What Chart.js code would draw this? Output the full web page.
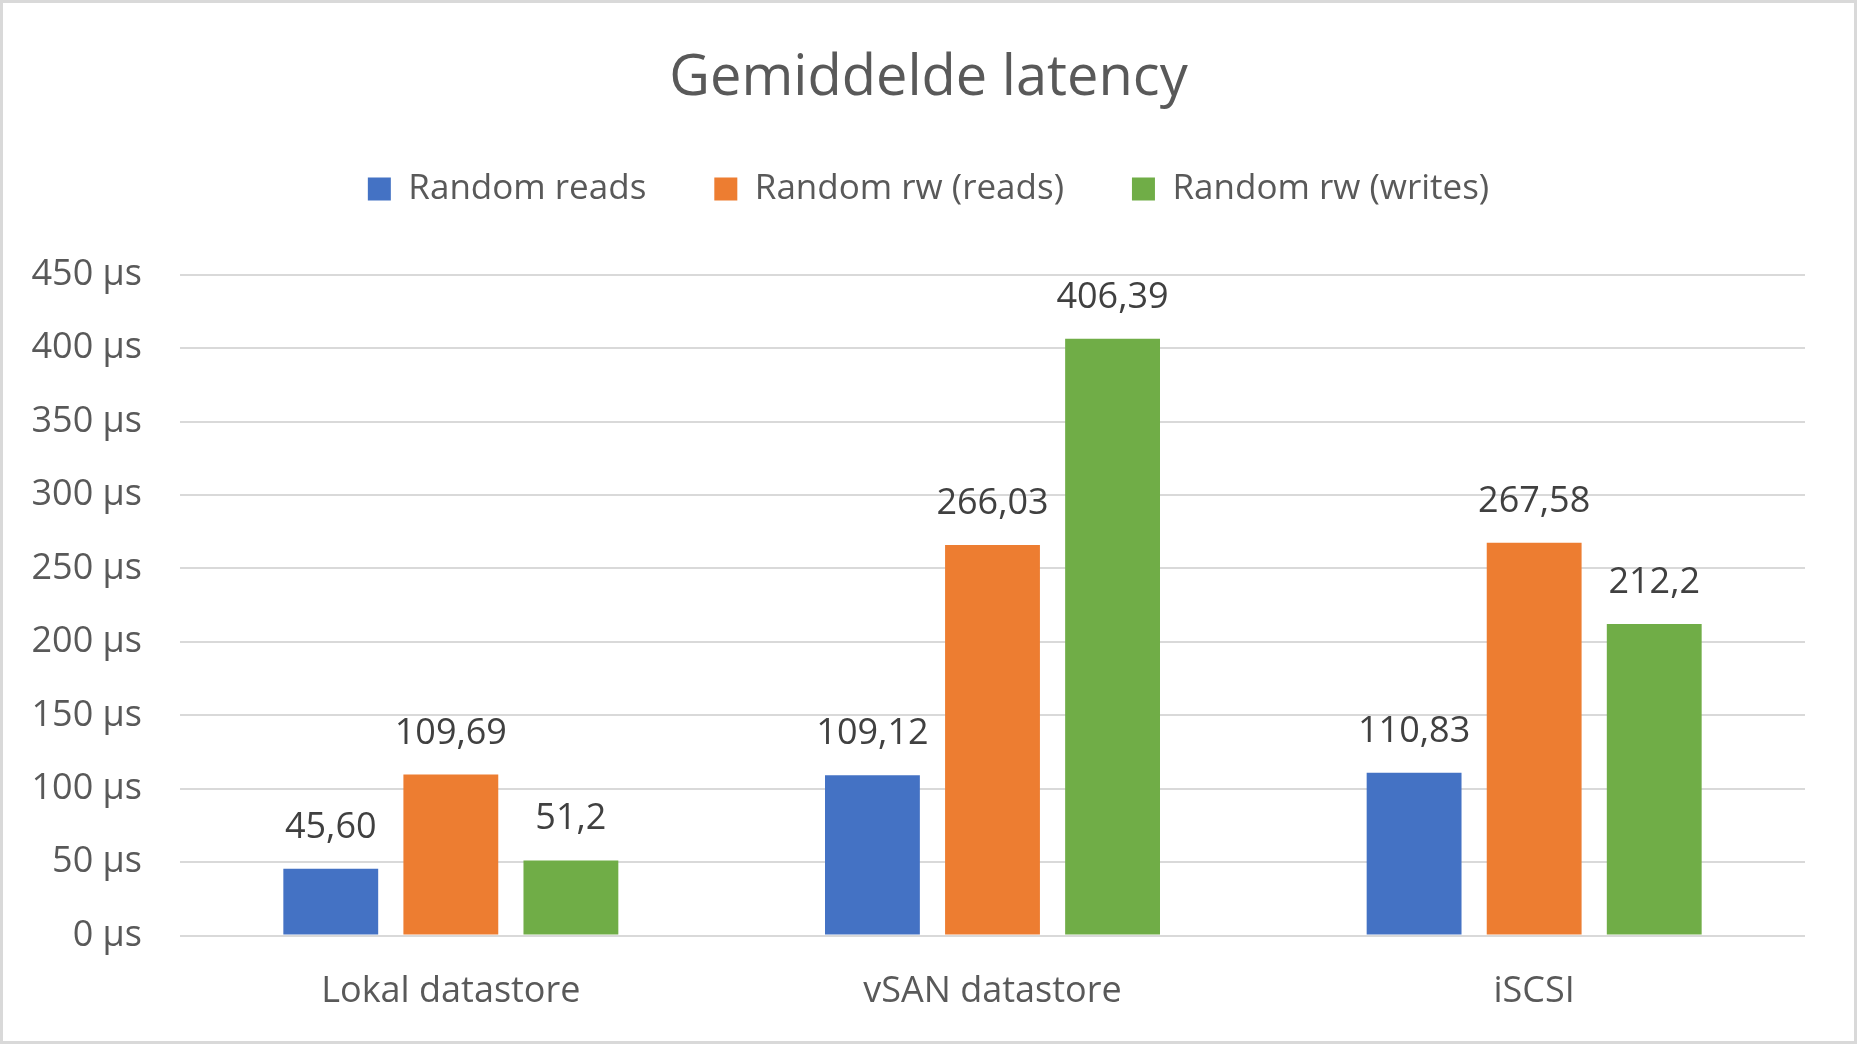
<!DOCTYPE html>
<html><head><meta charset="utf-8">
<script src="https://cdn.jsdelivr.net/npm/chart.js@4/dist/chart.umd.min.js"></script>
<style>html,body{margin:0;padding:0;background:#fff;}#wrap{width:1857px;height:1044px;position:relative;}</style>
</head><body><div id="wrap"><canvas id="c" width="1857" height="1044"></canvas></div>
<script>
const categories = ["Lokal datastore", "vSAN datastore", "iSCSI"];
const seriesNames = ["Random reads", "Random rw (reads)", "Random rw (writes)"];
const randomReads = [45.60, 109.12, 110.83];
const randomRwReads = [109.69, 266.03, 267.58];
const randomRwWrites = [51.2, 406.39, 212.2];
const randomReadsLabels = ["45,60", "109,12", "110,83"];
const randomRwReadsLabels = ["109,69", "266,03", "267,58"];
const randomRwWritesLabels = ["51,2", "406,39", "212,2"];
const yMin = 0, yMax = 450, yStep = 50;
const tickUnit = " µs";
const titleText = "Gemiddelde latency";

const FONT = "'Open Sans', sans-serif";
const valueLabels = [randomReadsLabels, randomRwReadsLabels, randomRwWritesLabels];

const dataLabelPlugin = {
  id: 'dataLabels',
  afterDatasetsDraw(chart) {
    const ctx = chart.ctx;
    ctx.save();
    ctx.font = "36px " + FONT;
    ctx.fillStyle = "#404040";
    ctx.textAlign = "center";
    ctx.textBaseline = "alphabetic";
    chart.data.datasets.forEach((ds, di) => {
      const meta = chart.getDatasetMeta(di);
      meta.data.forEach((el, i) => {
        ctx.fillText(valueLabels[di][i], el.x, el.y - 31);
      });
    });
    ctx.restore();
  }
};
const borderPlugin = {
  id: 'frame',
  afterDraw(chart) {
    const ctx = chart.ctx;
    ctx.save();
    ctx.strokeStyle = "#d9d9d9";
    ctx.lineWidth = 3;
    ctx.strokeRect(1.5, 1.5, chart.width - 3, chart.height - 3);
    ctx.restore();
  }
};

new Chart(document.getElementById('c'), {
  type: 'bar',
  data: {
    labels: categories,
    datasets: [
      { label: seriesNames[0], data: randomReads, backgroundColor: "#4472C4" },
      { label: seriesNames[1], data: randomRwReads, backgroundColor: "#ED7D31" },
      { label: seriesNames[2], data: randomRwWrites, backgroundColor: "#70AD47" }
    ]
  },
  options: {
    responsive: false,
    animation: false,
    devicePixelRatio: 1,
    categoryPercentage: 0.665,
    barPercentage: 0.79,
    layout: { padding: { left: 0, right: 0, top: 0, bottom: 0 } },
    plugins: {
      title: {
        display: true,
        text: titleText,
        color: "#595959",
        font: { family: FONT, size: 56, weight: 'normal', lineHeight: 0.75 },
        padding: { top: 58, bottom: 3.5 }
      },
      legend: {
        display: true,
        position: 'top',
        labels: {
          color: "#595959",
          font: { family: FONT, size: 35, lineHeight: 1.2 },
          boxWidth: 23,
          boxHeight: 23,
          padding: 68
        }
      },
      tooltip: { enabled: false }
    },
    scales: {
      x: {
        grid: { display: false },
        border: { display: false },
        ticks: { color: "#595959", font: { family: FONT, size: 36 }, padding: 27 },
        afterFit(s) { s.height = 108.4; }
      },
      xTop: {
        type: 'category',
        position: 'top',
        display: true,
        grid: { display: false, drawTicks: false },
        border: { display: false },
        ticks: { display: false },
        afterFit(s) { s.height = 58.3; }
      },
      y: {
        min: yMin, max: yMax,
        grid: { color: "#d9d9d9", lineWidth: 2, drawTicks: false },
        border: { display: false },
        ticks: {
          stepSize: yStep,
          color: "#595959",
          font: { family: FONT, size: 36 },
          padding: 38,
          callback: v => v + tickUnit
        },
        afterFit(s) { s.width = 180; }
      },
      yRight: {
        position: 'right',
        display: true,
        grid: { display: false, drawTicks: false },
        border: { display: false },
        ticks: { display: false },
        afterFit(s) { s.width = 52; }
      }
    }
  },
  plugins: [dataLabelPlugin, borderPlugin]
});
</script></body></html>
